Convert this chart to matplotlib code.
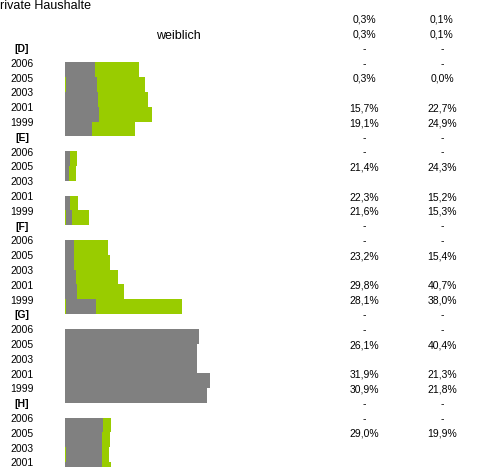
import numpy as np
import matplotlib
matplotlib.use('Agg')
import matplotlib.pyplot as plt
from matplotlib.transforms import blended_transform_factory

plt.rcParams['font.family'] = ['Liberation Sans', 'DejaVu Sans']

# Gruppen und Jahre (H ist unten abgeschnitten)
groups = ['[D]', '[E]', '[F]', '[G]', '[H]']
years = {
    '[D]': ['2006', '2005', '2003', '2001', '1999'],
    '[E]': ['2006', '2005', '2003', '2001', '1999'],
    '[F]': ['2006', '2005', '2003', '2001', '1999'],
    '[G]': ['2006', '2005', '2003', '2001', '1999'],
    '[H]': ['2006', '2005', '2003', '2001'],
}

# Balkensegmente: kleiner Anteil vorne (gruen), grau, gruen
lead_green = [0, 0.25, 0, 0, 0,
              0, 0, 0, 0, 0.25,
              0, 0, 0, 0, 0.25,
              0, 0, 0, 0, 0,
              0, 0, 0.25, 0]
gray_part = [7.2, 7.5, 8.0, 8.2, 6.5,
             1.2, 1.0, 0.0, 1.2, 1.45,
             2.2, 2.2, 2.7, 2.9, 7.25,
             32.4, 31.9, 31.9, 35.0, 34.3,
             9.2, 8.9, 8.7, 8.9]
green_part = [10.6, 11.6, 12.0, 12.8, 10.4,
              1.7, 1.7, 0.0, 1.9, 4.1,
              8.2, 8.7, 10.1, 11.4, 20.8,
              0.0, 0.0, 0.0, 0.0, 0.0,
              1.9, 1.9, 1.7, 2.2]

# Tabelle rechts (Zeilen ab zwei Zeilen ueber [D])
col_a = ['0,3%', '0,3%', '-', '-', '0,3%', '', '15,7%', '19,1%', '-', '-',
         '21,4%', '', '22,3%', '21,6%', '-', '-', '23,2%', '', '29,8%', '28,1%',
         '-', '-', '26,1%', '', '31,9%', '30,9%', '-', '-', '29,0%', '', '']
col_b = ['0,1%', '0,1%', '-', '-', '0,0%', '', '22,7%', '24,9%', '-', '-',
         '24,3%', '', '15,2%', '15,3%', '-', '-', '15,4%', '', '40,7%', '38,0%',
         '-', '-', '40,4%', '', '21,3%', '21,8%', '-', '-', '19,9%', '', '']

GRAY = '#808080'
GREEN = '#99CC00'

fig = plt.figure(figsize=(4.79, 4.67), dpi=100)
ax = fig.add_axes([65 / 479, 0, 414 / 479, 1])
ax.set_xlim(0, 100)
ax.set_ylim(28.24, -3.31)
ax.axis('off')

trans = blended_transform_factory(fig.transFigure, ax.transData)

# Zeilen aufbauen
row = 0
bar_rows = []
for g in groups:
    ax.text(22 / 479, row, g, transform=trans, ha='center', va='center',
            fontsize=7.5, fontweight='bold')
    row += 1
    for y in years[g]:
        ax.text(22 / 479, row, y, transform=trans, ha='center', va='center',
                fontsize=7.5)
        bar_rows.append(row)
        row += 1

bar_rows = np.array(bar_rows)
lead = np.array(lead_green)
gray = np.array(gray_part)
green = np.array(green_part)

ax.barh(bar_rows - 0.1, lead, height=1.0, align='edge', color=GREEN, linewidth=0)
ax.barh(bar_rows - 0.1, gray, left=lead, height=1.0, align='edge', color=GRAY, linewidth=0)
ax.barh(bar_rows - 0.1, green, left=lead + gray, height=1.0, align='edge', color=GREEN, linewidth=0)

# Tabelle
for i, (a, b) in enumerate(zip(col_a, col_b)):
    r = i - 2
    ax.text(364 / 479, r, a, transform=trans, ha='center', va='center', fontsize=7.5)
    ax.text(442 / 479, r, b, transform=trans, ha='center', va='center', fontsize=7.5)

ax.text(178 / 479, -0.9, 'weiblich', transform=trans, ha='center', va='center', fontsize=9)
fig.text(0, 1 - 9 / 467, 'rivate Haushalte', ha='left', va='baseline', fontsize=9)

fig.savefig('out.png', dpi=100)
